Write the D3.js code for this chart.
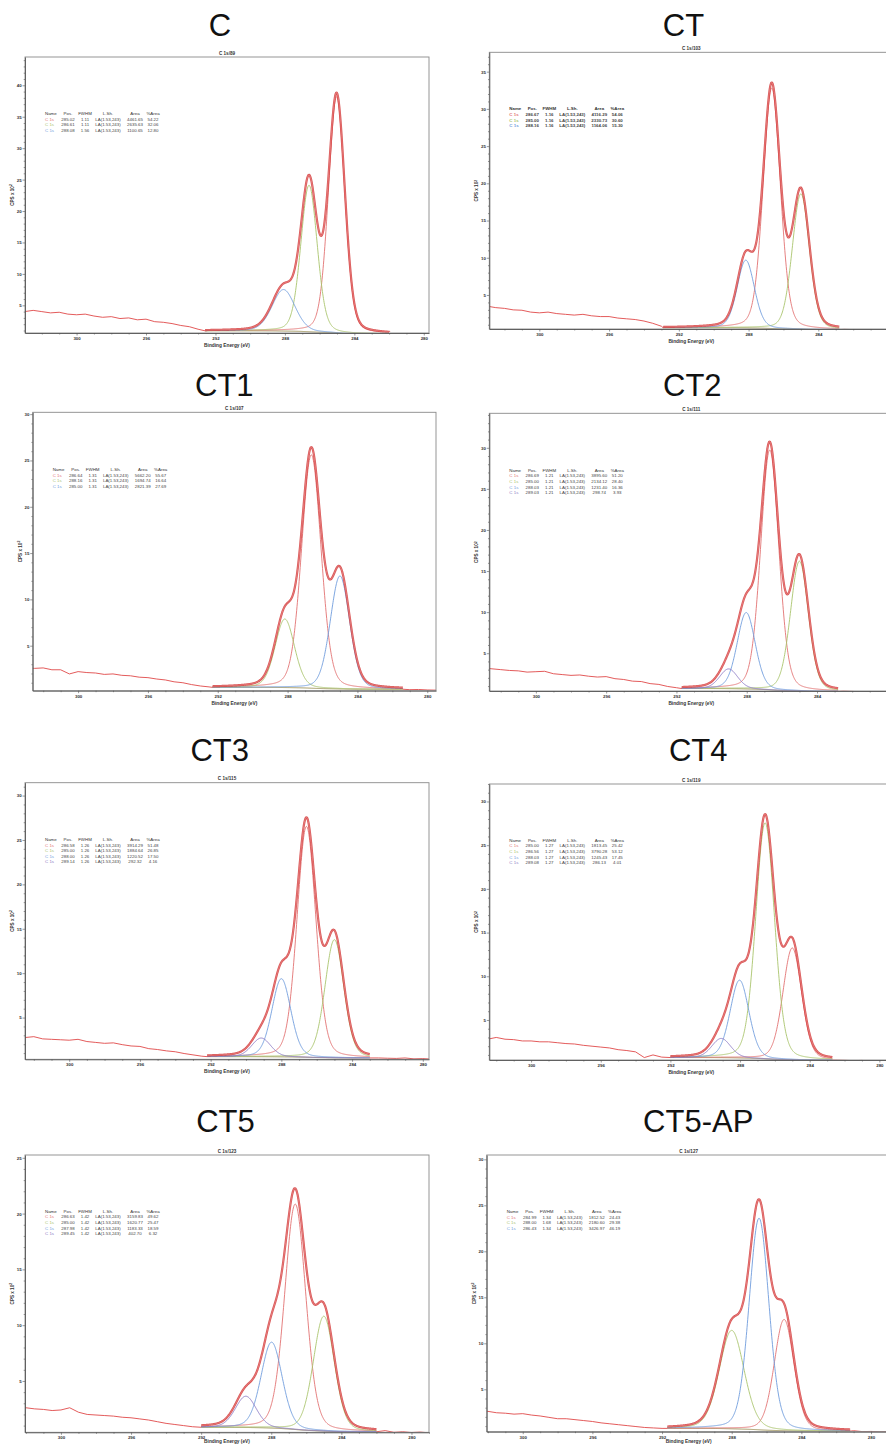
<!DOCTYPE html>
<html>
<head>
<meta charset="utf-8">
<script src="https://cdn.jsdelivr.net/npm/d3@7"></script>
<style>
  body { margin: 0; background: #fff; }
  svg { display: block; }
</style>
</head>
<body>
<svg id="fig" width="886" height="1445"></svg>
<script>
// ---------- data ----------
const panelNames = ["C", "CT", "CT1", "CT2", "CT3", "CT4", "CT5", "CT5-AP"];
const scanLabels = ["C 1s/89", "C 1s/103", "C 1s/107", "C 1s/111", "C 1s/115", "C 1s/119", "C 1s/123", "C 1s/127"];

// fitted C 1s components: position (eV), FWHM (eV), peak height above background (CPS x 10^2)
const peakPos = [
  [285.02, 286.61, 288.08],
  [286.67, 285.00, 288.16],
  [286.64, 288.16, 285.00],
  [286.69, 285.00, 288.03, 289.03],
  [286.58, 285.00, 288.00, 289.14],
  [285.00, 286.56, 288.03, 289.08],
  [286.63, 285.00, 287.98, 289.45],
  [284.99, 288.00, 286.43]
];
const peakFwhm = [
  [1.11, 1.11, 1.56],
  [1.16, 1.16, 1.16],
  [1.31, 1.31, 1.31],
  [1.21, 1.21, 1.21, 1.21],
  [1.26, 1.26, 1.26, 1.26],
  [1.27, 1.27, 1.27, 1.27],
  [1.42, 1.42, 1.42, 1.42],
  [1.34, 1.68, 1.34]
];
const peakHeight = [
  [37.6, 23.3, 6.6],
  [32.3, 18.2, 9.1],
  [25.2, 7.4, 12.2],
  [29.2, 15.8, 9.3, 2.4],
  [26.0, 13.3, 8.8, 2.1],
  [12.8, 27.0, 8.9, 2.2],
  [20.2, 10.3, 7.7, 2.8],
  [12.1, 10.7, 23.0]
];
const peakArea = [
  ["4461.65", "2635.63", "1100.65"],
  ["4116.29", "2330.73", "1164.06"],
  ["5662.20", "1694.74", "2821.39"],
  ["3895.60", "2134.12", "1231.40", "298.74"],
  ["3914.29", "1884.64", "1220.52", "292.32"],
  ["1813.45", "3790.28", "1245.43", "286.13"],
  ["3159.83", "1620.77", "1183.33", "402.70"],
  ["1812.52", "2180.60", "3426.97"]
];
const peakPct = [
  ["54.22", "32.06", "12.80"],
  ["54.06", "30.60", "15.30"],
  ["55.67", "16.64", "27.69"],
  ["51.20", "28.40", "16.36", "3.93"],
  ["51.48", "26.85", "17.50", "4.16"],
  ["25.42", "53.12", "17.45", "4.01"],
  ["49.62", "25.47", "18.59", "6.32"],
  ["24.43", "29.38", "46.19"]
];
const lineShape = "LA(1.53,243)";
const tableHeader = ["Name", "Pos.", "FWHM", "L.Sh.", "Area", "%Area"];

// background region [high BE, low BE] and its end levels
const bgRange = [
  [292.6, 282.0], [292.9, 282.8], [292.3, 281.4], [291.7, 282.8],
  [292.2, 283.0], [292.0, 282.7], [292.0, 282.0], [291.7, 281.2]
];
const bgLevel = [
  [0.95, 0.45], [0.6, 0.35], [0.5, 0.3], [0.7, 0.35],
  [0.6, 0.45], [0.7, 0.4], [0.85, 0.45], [0.75, 0.45]
];

// measured counts from 303 eV downward, every 0.5 eV
const rawLeft = [
  [4.0, 4.2, 4.0, 3.8, 3.9, 3.6, 3.5, 3.6, 3.3, 3.1, 3.2, 2.9, 3.0, 2.7, 2.8, 2.4, 2.3, 2.1, 1.8, 1.6, 1.2],
  [3.5, 3.3, 3.2, 3.0, 2.95, 2.7, 2.6, 2.7, 2.5, 2.4, 2.3, 2.4, 2.2, 2.1, 2.1, 1.9, 1.8, 1.7, 1.5, 1.2, 0.8],
  [2.6, 2.55, 2.6, 2.4, 2.4, 1.95, 2.2, 2.1, 2.05, 1.9, 1.95, 1.8, 1.75, 1.6, 1.55, 1.4, 1.3, 1.1, 1.0, 0.8, 0.65, 0.55],
  [3.2, 3.1, 3.0, 2.9, 2.85, 2.7, 2.75, 2.8, 2.5, 2.4, 2.3, 2.35, 2.2, 2.1, 2.15, 1.9, 1.8, 1.6, 1.55, 1.3, 1.2, 0.95, 0.8],
  [2.7, 2.75, 2.85, 2.6, 2.55, 2.5, 2.45, 2.55, 2.3, 2.2, 2.1, 2.15, 1.95, 1.8, 1.75, 1.5, 1.4, 1.25, 1.15, 0.95, 0.8, 0.65],
  [2.9, 2.8, 3.0, 2.8, 2.75, 2.6, 2.6, 2.5, 2.5, 2.4, 2.3, 2.25, 2.1, 2.0, 1.9, 1.8, 1.6, 1.5, 1.35, 0.7, 1.0, 0.75],
  [2.7, 2.65, 2.6, 2.5, 2.45, 2.35, 2.4, 2.6, 2.2, 2.0, 1.95, 1.9, 1.85, 1.75, 1.7, 1.6, 1.5, 1.35, 1.2, 1.1, 1.0, 0.9],
  [2.7, 2.65, 2.6, 2.45, 2.4, 2.3, 2.35, 2.2, 2.1, 1.95, 1.8, 1.8, 1.7, 1.6, 1.5, 1.35, 1.25, 1.15, 1.05, 0.95, 0.85, 0.8, 0.75]
];
// measured counts from 282.5 eV downward, every 0.5 eV
const rawRight = [
  [0.5, 0.45, 0.4, 0.42, 0.35, 0.36, 0.3, 0.32, 0.3],
  [0.38, 0.35, 0.3, 0.33, 0.28, 0.3, 0.25, 0.27, 0.25],
  [0.35, 0.32, 0.3, 0.25, 0.27, 0.22, 0.2, 0.18, 0.15],
  [0.38, 0.35, 0.3, 0.32, 0.28, 0.3, 0.25, 0.27, 0.25],
  [0.45, 0.42, 0.4, 0.45, 0.35, 0.38, 0.32, 0.35, 0.3],
  [0.4, 0.38, 0.35, 0.37, 0.3, 0.33, 0.28, 0.3, 0.27],
  [0.45, 0.45, 0.55, 0.4, 0.45, 0.38, 0.42, 0.35, 0.4],
  [0.5, 0.45, 0.45, 0.5, 0.4, 0.42, 0.38, 0.4, 0.35]
];
const xTickValues = [300, 296, 292, 288, 284, 280];

// ---------- layout ----------
const W = 886, H = 1445;
const frames = [
  { x0: 25,    y0: 57,     x1: 429,   y1: 333,    e: [302.97, 279.7], c: [0.6, 44.5],  tx: 220,   ty: 36,    nx: 45,    ny: 115,   bold: false },
  { x0: 489.3, y0: 52.3,   x1: 893.3, y1: 329,    e: [302.87, 279.7], c: [0.43, 37.6], tx: 683.5, ty: 36,    nx: 509.3, ny: 110.3, bold: true },
  { x0: 32.7,  y0: 412.3,  x1: 436,   y1: 690.7,  e: [302.6, 279.5],  c: [0.14, 30.2], tx: 224.3, ty: 396,   nx: 52.7,  ny: 471,   bold: false },
  { x0: 489.3, y0: 413.3,  x1: 893.3, y1: 691,    e: [302.65, 279.66],c: [0.4, 34.2],  tx: 692.3, ty: 396,   nx: 509.3, ny: 471.7, bold: false },
  { x0: 25,    y0: 782.7,  x1: 429,   y1: 1059.3, e: [302.5, 279.65], c: [0.3, 31.45], tx: 219.7, ty: 761,   nx: 45,    ny: 841,   bold: false },
  { x0: 489.3, y0: 784,    x1: 893.3, y1: 1060,   e: [302.4, 279.2],  c: [0.42, 32.0], tx: 698.2, ty: 761,   nx: 509.3, ny: 841.7, bold: false },
  { x0: 25,    y0: 1155,   x1: 429,   y1: 1432.3, e: [302.05, 279.0], c: [0.4, 25.25], tx: 225.5, ty: 1131.5,nx: 45,    ny: 1212.7,bold: false },
  { x0: 486.7, y0: 1155,   x1: 890.7, y1: 1431.7, e: [302.07, 278.87],c: [0.39, 30.47],tx: 698.2, ty: 1131.5,nx: 506.7, ny: 1213,  bold: false }
];

const compColors = ["#e27272", "#a9c46c", "#6f9cdc", "#8a78c4"];
const envColor = "#d23a3a";
const rawColor = "#e04848";
const bgColor = "#9a8f55";
const axisColor = "#555";
const ETA = 0.2; // Lorentzian fraction of the component line shape

const svg = d3.select("#fig");
svg.append("rect").attr("width", W).attr("height", H).attr("fill", "#fff");

function shape(E, pos, fwhm) {
  const d = (E - pos) / fwhm;
  return (1 - ETA) * Math.exp(-4 * Math.LN2 * d * d) + ETA / (1 + 4 * d * d);
}

panelNames.forEach((name, i) => {
  const f = frames[i];
  const x = d3.scaleLinear().domain(f.e).range([f.x0, f.x1]);
  const y = d3.scaleLinear().domain(f.c).range([f.y1, f.y0]);
  const g = svg.append("g");

  // title
  g.append("text")
    .attr("x", f.tx).attr("y", f.ty)
    .attr("text-anchor", "middle")
    .attr("font-family", "'Liberation Sans', Arial, sans-serif")
    .attr("font-size", 31)
    .attr("fill", "#111")
    .text(name);

  // scan label above the frame
  g.append("text")
    .attr("x", (f.x0 + f.x1) / 2).attr("y", f.y0 - 2.5)
    .attr("text-anchor", "middle")
    .attr("font-family", "'Liberation Sans', Arial, sans-serif")
    .attr("font-size", 4.6).attr("font-weight", "bold")
    .attr("fill", "#333")
    .text(scanLabels[i]);

  // clip region
  const clipId = "clip" + i;
  svg.append("clipPath").attr("id", clipId)
    .append("rect").attr("x", f.x0).attr("y", f.y0)
    .attr("width", f.x1 - f.x0).attr("height", f.y1 - f.y0);

  // fit model on a fine grid across the background region
  const [bl, br] = bgRange[i];
  const grid = d3.range(bl, br, -0.02).concat([br]);
  const comps = peakPos[i].map((p, k) => grid.map(E => peakHeight[i][k] * shape(E, p, peakFwhm[i][k])));
  const sum = grid.map((E, j) => d3.sum(comps, c => c[j]));
  // Shirley-type background: step grows with the peak area on the low-BE side
  const cum = new Array(grid.length).fill(0);
  for (let j = grid.length - 2; j >= 0; j--) cum[j] = cum[j + 1] + (sum[j] + sum[j + 1]) / 2;
  const total = cum[0] || 1;
  const [Lv, Rv] = bgLevel[i];
  const bg = cum.map(a => Rv + (Lv - Rv) * a / total);

  const line = d3.line().x(d => x(d[0])).y(d => y(d[1]));
  const smooth = d3.line().x(d => x(d[0])).y(d => y(d[1])).curve(d3.curveMonotoneX);

  const plot = g.append("g").attr("clip-path", `url(#${clipId})`);

  // background line
  plot.append("path")
    .attr("d", smooth(grid.map((E, j) => [E, bg[j]])))
    .attr("fill", "none").attr("stroke", bgColor).attr("stroke-width", 1);

  // components
  comps.forEach((c, k) => {
    plot.append("path")
      .attr("d", smooth(grid.map((E, j) => [E, bg[j] + c[j]])))
      .attr("fill", "none").attr("stroke", compColors[k]).attr("stroke-width", 0.9);
  });

  // measured data outside the fitted region
  const leftPts = rawLeft[i].map((v, k) => [303 - 0.5 * k, v]).filter(d => d[0] > bl);
  leftPts.push([bl, Lv]);
  const rightPts = [[br, Rv]].concat(rawRight[i].map((v, k) => [282.5 - 0.5 * k, v]).filter(d => d[0] < br));
  [leftPts, rightPts].forEach(pts => {
    plot.append("path")
      .attr("d", line(pts))
      .attr("fill", "none").attr("stroke", rawColor).attr("stroke-width", 0.9);
  });

  // envelope
  const env = grid.map((E, j) => [E, bg[j] + sum[j]]);
  plot.append("path")
    .attr("d", smooth(env))
    .attr("fill", "none").attr("stroke", envColor).attr("stroke-width", 2.2).attr("stroke-opacity", 0.85);
  plot.append("path")
    .attr("d", smooth(env))
    .attr("fill", "none").attr("stroke", "#f3a0a0").attr("stroke-width", 0.5);

  // frame
  g.append("rect")
    .attr("x", f.x0).attr("y", f.y0)
    .attr("width", f.x1 - f.x0).attr("height", f.y1 - f.y0)
    .attr("fill", "none").attr("stroke", "#8a8a8a").attr("stroke-width", 0.9);

  // y axis: major ticks every 5, minor every 1
  const yMajor = d3.range(5, f.c[1] + 0.01, 5);
  const yMinor = d3.range(Math.ceil(f.c[0]), Math.floor(f.c[1]) + 1).filter(v => v % 5 !== 0);
  g.append("g").attr("transform", `translate(${f.x0},0)`)
    .call(d3.axisLeft(y).tickValues(yMajor).tickSize(2.5).tickSizeOuter(0).tickPadding(0.8).tickFormat(d3.format("d")));
  g.append("g").attr("transform", `translate(${f.x0},0)`)
    .call(d3.axisLeft(y).tickValues(yMinor).tickSize(1.3).tickSizeOuter(0).tickFormat(""))
    .call(s => s.select(".domain").remove());

  // x axis: major ticks every 4 eV, minor every 1 eV (labels kept inside the page)
  const xMajor = xTickValues.filter(v => v <= f.e[0] && v >= f.e[1]);
  const xMinor = d3.range(Math.ceil(f.e[1]), Math.floor(f.e[0]) + 1).filter(v => !xTickValues.includes(v));
  g.append("g").attr("transform", `translate(0,${f.y1})`)
    .call(d3.axisBottom(x).tickValues(xMajor).tickSize(2.5).tickSizeOuter(0).tickPadding(1.5)
      .tickFormat(v => (x(v) < W - 5 ? d3.format("d")(v) : "")));
  g.append("g").attr("transform", `translate(0,${f.y1})`)
    .call(d3.axisBottom(x).tickValues(xMinor).tickSize(1.5).tickSizeOuter(0).tickFormat(""))
    .call(s => s.select(".domain").remove());

  g.selectAll(".tick line").attr("stroke", axisColor).attr("stroke-width", 0.6);
  g.selectAll(".domain").attr("stroke", axisColor).attr("stroke-width", 0.9);
  g.selectAll(".tick text")
    .attr("font-family", "'Liberation Sans', Arial, sans-serif")
    .attr("font-size", 4.4).attr("font-weight", "bold").attr("fill", "#333");

  // axis titles
  g.append("text")
    .attr("x", (f.x0 + f.x1) / 2).attr("y", Math.min(f.y1 + 14, H - 2))
    .attr("text-anchor", "middle")
    .attr("font-family", "'Liberation Sans', Arial, sans-serif")
    .attr("font-size", 4.8).attr("font-weight", "bold").attr("fill", "#333")
    .text("Binding Energy (eV)");

  const yl = g.append("text")
    .attr("transform", `translate(${f.x0 - 11},${(f.y0 + f.y1) / 2}) rotate(-90)`)
    .attr("text-anchor", "middle")
    .attr("font-family", "'Liberation Sans', Arial, sans-serif")
    .attr("font-size", 4.6).attr("font-weight", "bold").attr("fill", "#333");
  yl.append("tspan").text("CPS x 10");
  yl.append("tspan").attr("dy", -1.8).attr("font-size", 3.4).text("2");

  // component table
  const colDx = [0, 23, 40, 63, 90, 108];
  const colAnchor = ["start", "middle", "middle", "middle", "middle", "middle"];
  const tbl = g.append("g")
    .attr("font-family", "'Liberation Sans', Arial, sans-serif")
    .attr("font-size", 4.4)
    .attr("font-weight", f.bold ? "bold" : "normal");
  tableHeader.forEach((h, c) => {
    tbl.append("text").attr("x", f.nx + colDx[c]).attr("y", f.ny)
      .attr("text-anchor", colAnchor[c]).attr("fill", "#333").text(h);
  });
  peakPos[i].forEach((p, r) => {
    const row = ["C 1s", p.toFixed(2), peakFwhm[i][r].toFixed(2), lineShape, peakArea[i][r], peakPct[i][r]];
    row.forEach((v, c) => {
      tbl.append("text").attr("x", f.nx + colDx[c]).attr("y", f.ny + 5.6 * (r + 1))
        .attr("text-anchor", colAnchor[c])
        .attr("fill", c === 0 ? compColors[r] : "#444")
        .text(v);
    });
  });
});
</script>
</body>
</html>
